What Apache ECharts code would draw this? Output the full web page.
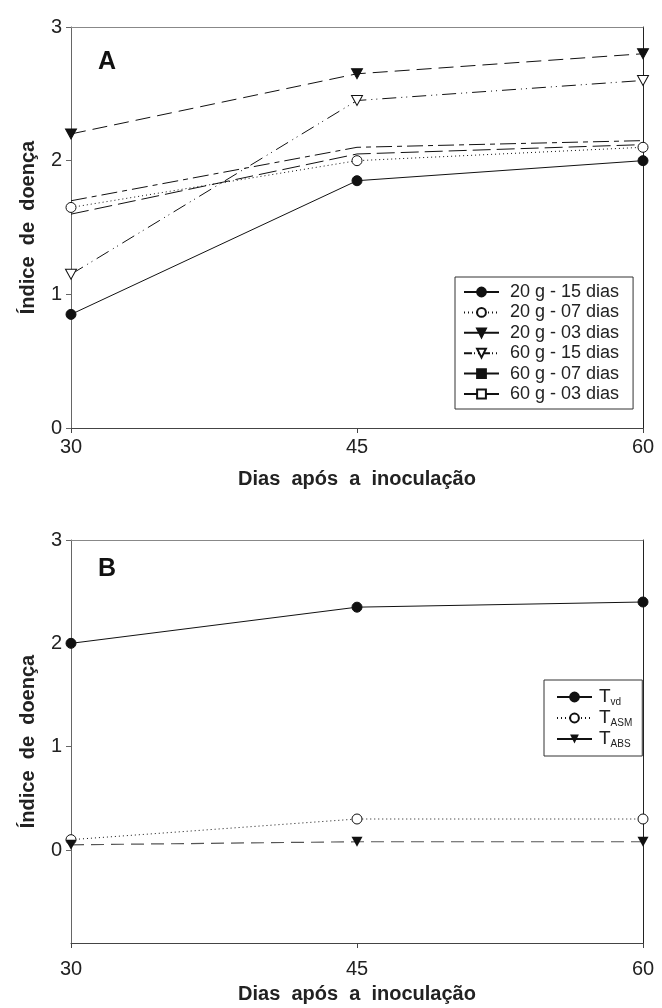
<!DOCTYPE html>
<html><head><meta charset="utf-8">
<script src="https://cdn.jsdelivr.net/npm/echarts@6/dist/echarts.min.js"></script>
<style>html,body{margin:0;padding:0;background:#fff}#c{width:662px;height:1008px}</style>
</head><body><div id="c"></div>
<script>
// ---- data ----
const days = [30, 45, 60];
const yTicks = [0, 1, 2, 3];
const namesA = ['20 g - 15 dias', '20 g - 07 dias', '20 g - 03 dias', '60 g - 15 dias', '60 g - 07 dias', '60 g - 03 dias'];
const a20g15 = [0.85, 1.85, 2.0];
const a20g07 = [1.65, 2.0, 2.1];
const a20g03 = [2.2, 2.65, 2.8];
const a60g15 = [1.15, 2.45, 2.6];
const a60g07 = [1.7, 2.1, 2.15];
const a60g03 = [1.6, 2.05, 2.12];
const namesB = ['Tvd', 'TASM', 'TABS'];
const subsB = ['vd', 'ASM', 'ABS'];
const bTvd = [2.0, 2.35, 2.4];
const bTasm = [0.1, 0.3, 0.3];
const bTabs = [0.05, 0.08, 0.08];

const pts = v => days.map((d, i) => [d, v[i]]);
const FONT = 'Liberation Sans, Arial, sans-serif';
const triDown = 'path://M0,0L10,0L5,9Z';
const BLACK = '#111';

function mkSeries(name, vals, xi, opt) {
  return Object.assign({
    type: 'line', name: name, data: pts(vals), xAxisIndex: xi, yAxisIndex: xi,
    symbol: 'circle', symbolSize: 10, showSymbol: true,
    lineStyle: { color: BLACK, width: 1, type: 'solid' },
    itemStyle: { color: BLACK, borderColor: BLACK, borderWidth: 1 },
    emphasis: { disabled: true }, silent: true, z: 3
  }, opt);
}

const series = [
  mkSeries(namesA[0], a20g15, 0, {}),
  mkSeries(namesA[1], a20g07, 0, { lineStyle: { color: BLACK, width: 1, type: [1, 3] }, itemStyle: { color: '#fff', borderColor: BLACK, borderWidth: 1 } }),
  mkSeries(namesA[2], a20g03, 0, { symbol: triDown, symbolSize: [11, 10], lineStyle: { color: BLACK, width: 1, type: [15, 7] } }),
  mkSeries(namesA[3], a60g15, 0, { symbol: triDown, symbolSize: [11, 10], lineStyle: { color: BLACK, width: 1, type: [14, 5, 1, 4, 1, 5] }, itemStyle: { color: '#fff', borderColor: BLACK, borderWidth: 1 } }),
  mkSeries(namesA[4], a60g07, 0, { symbol: 'rect', symbolSize: 0, lineStyle: { color: BLACK, width: 1, type: [16, 5, 5, 5] } }),
  mkSeries(namesA[5], a60g03, 0, { symbol: 'rect', symbolSize: 0, lineStyle: { color: BLACK, width: 1, type: [18, 6] }, itemStyle: { color: '#fff', borderColor: BLACK, borderWidth: 1 } }),
  mkSeries(namesB[0], bTvd, 2, {}),
  mkSeries(namesB[1], bTasm, 2, { lineStyle: { color: BLACK, width: 1, type: [1, 3] }, itemStyle: { color: '#fff', borderColor: BLACK, borderWidth: 1 } }),
  mkSeries(namesB[2], bTabs, 2, { symbol: triDown, symbolSize: [11, 10], lineStyle: { color: '#555', width: 1.2, type: [13, 7] }, itemStyle: { color: BLACK } })
];

function mainX(gi, gap, margin) {
  return {
    type: 'value', gridIndex: gi, min: 30, max: 60, interval: 15, position: 'bottom',
    name: 'Dias  após  a  inoculação', nameLocation: 'middle', nameGap: gap,
    nameTextStyle: { fontFamily: FONT, fontSize: 20, fontWeight: 'bold', color: '#222' },
    axisLine: { onZero: false, lineStyle: { color: '#444', width: 1 } },
    axisTick: { show: true, inside: false, length: 5, lineStyle: { color: '#444' } },
    axisLabel: { margin: margin, fontFamily: FONT, fontSize: 20, color: '#222' },
    splitLine: { show: false }
  };
}
function frameX(gi) {
  return { type: 'value', gridIndex: gi, min: 30, max: 60, position: 'top',
    axisLine: { show: true, onZero: false, lineStyle: { color: '#888', width: 1 } },
    axisTick: { show: false }, axisLabel: { show: false }, splitLine: { show: false } };
}
function mainY(gi, min) {
  return {
    type: 'value', gridIndex: gi, min: min, max: 3, position: 'left',
    name: 'Índice  de  doença', nameLocation: 'middle', nameGap: 33,
    nameTextStyle: { fontFamily: FONT, fontSize: 20, fontWeight: 'bold', color: '#222' },
    axisLine: { show: true, onZero: false, lineStyle: { color: '#666', width: 1 } },
    axisTick: { show: true, inside: false, length: 5, customValues: yTicks, lineStyle: { color: '#666' } },
    axisLabel: { margin: 9, fontFamily: FONT, fontSize: 20, color: '#222', customValues: yTicks },
    splitLine: { show: false }
  };
}
function frameY(gi, min) {
  return { type: 'value', gridIndex: gi, min: min, max: 3, position: 'right',
    axisLine: { show: true, onZero: false, lineStyle: { color: '#222', width: 1 } },
    axisTick: { show: false }, axisLabel: { show: false }, splitLine: { show: false } };
}

const legendTextA = { fontFamily: FONT, fontSize: 18, lineHeight: 18, color: '#222', padding: [0, 0, 0, 6] };
const option = {
  animation: false,
  backgroundColor: '#fff',
  title: [
    { text: 'A', left: 93, top: 45, textStyle: { fontFamily: FONT, fontSize: 25, fontWeight: 'bold', color: '#111' } },
    { text: 'B', left: 93, top: 552, textStyle: { fontFamily: FONT, fontSize: 25, fontWeight: 'bold', color: '#111' } }
  ],
  grid: [
    { left: 71, top: 27, width: 572, height: 401 },
    { left: 71, top: 540, width: 572, height: 403 }
  ],
  xAxis: [mainX(0, 41, 9), frameX(0), mainX(1, 41, 16), frameX(1)],
  yAxis: [mainY(0, 0), frameY(0, 0), mainY(1, -0.9), frameY(1, -0.9)],
  legend: [
    {
      orient: 'vertical', left: 455, top: 277,
      backgroundColor: '#fff', borderColor: '#333', borderWidth: 1,
      padding: [6, 14, 6, 8], itemWidth: 35, itemHeight: 11, itemGap: 2.4,
      selectedMode: false, textStyle: legendTextA,
      data: [
        { name: namesA[0] },
        { name: namesA[1] },
        { name: namesA[2], lineStyle: { type: 'solid' } },
        { name: namesA[3], lineStyle: { type: [8, 2, 1, 3, 1, 3] } },
        { name: namesA[4], lineStyle: { type: 'solid' } },
        { name: namesA[5], lineStyle: { type: 'solid' } }
      ]
    },
    {
      orient: 'vertical', left: 544, top: 680,
      backgroundColor: '#fff', borderColor: '#333', borderWidth: 1,
      padding: [7, 10, 7, 12], itemWidth: 35, itemHeight: 11, itemGap: 1,
      selectedMode: false,
      formatter: n => '{t|T}{s|' + subsB[namesB.indexOf(n)] + '}',
      textStyle: {
        fontFamily: FONT, color: '#222', padding: [0, 0, 0, 2],
        rich: {
          t: { fontFamily: FONT, fontSize: 19, color: '#222', lineHeight: 20 },
          s: { fontFamily: FONT, fontSize: 10, color: '#222', lineHeight: 10, padding: [10, 0, 0, 0] }
        }
      },
      data: [
        { name: namesB[0] },
        { name: namesB[1] },
        { name: namesB[2], lineStyle: { type: 'solid', color: BLACK } }
      ]
    }
  ],
  series: series
};

const chart = echarts.init(document.getElementById('c'), null, { renderer: 'canvas' });
chart.setOption(option);
</script>
</body></html>
